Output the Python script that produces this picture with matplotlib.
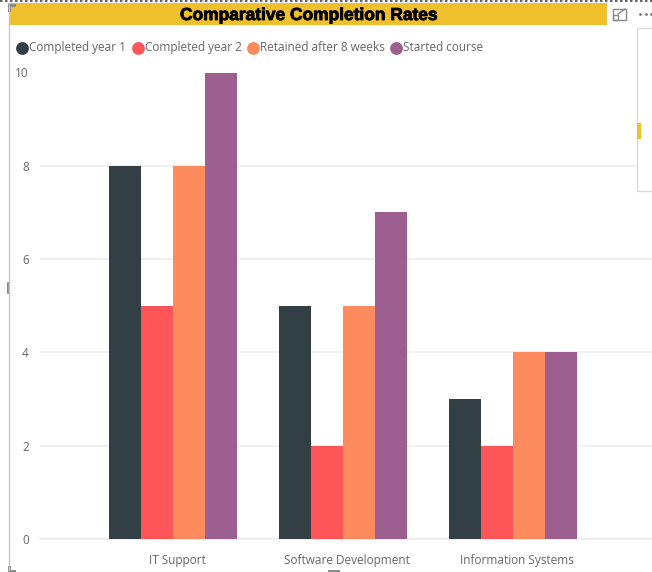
import matplotlib
matplotlib.use('Agg')
import matplotlib.pyplot as plt
from matplotlib.patches import Rectangle
from matplotlib.transforms import ScaledTranslation
import matplotlib.patheffects as pe
import numpy as np

categories = ['IT Support', 'Software Development', 'Information Systems']
completed_year_1 = [8, 5, 3]
completed_year_2 = [5, 2, 2]
retained_8_weeks = [8, 5, 4]
started_course = [10, 7, 4]

series_names = ['Completed year 1', 'Completed year 2', 'Retained after 8 weeks', 'Started course']
series_values = [completed_year_1, completed_year_2, retained_8_weeks, started_course]
colors = ['#323F44', '#FD5558', '#FD8B5E', '#9C5F8F']
y_ticks = [0, 2, 4, 6, 8, 10]

W, H = 652, 572
plt.rcParams['font.family'] = ['Open Sans', 'DejaVu Sans']

fig = plt.figure(figsize=(W / 100, H / 100), dpi=100)
ax = fig.add_axes([40 / W, 1 - 539 / H, (W - 40) / W, (539 - 72.5) / H])

# bars
x = np.arange(len(categories))
bar_w = 0.189
for i, vals in enumerate(series_values):
    ax.bar(x + (i - 1.5) * bar_w, vals, width=bar_w, color=colors[i], zorder=3)

ax.set_xlim(-0.782, 2.818)
ax.set_ylim(0, 10)
ax.set_yticks(y_ticks)
ax.set_xticks(x)
ax.set_xticklabels(categories)
ax.tick_params(axis='both', length=0, labelsize=8.5, labelcolor='#666666')
ax.tick_params(axis='x', pad=10.5)
ax.tick_params(axis='y', pad=8)
ax.grid(axis='y', color='#EDEDED', linewidth=1.2, zorder=0)
ax.set_axisbelow(True)
ax.spines[['top', 'right', 'left']].set_visible(False)
ax.spines['bottom'].set_color('#EDEDED')
ax.spines['bottom'].set_linewidth(1.2)

# category labels sit a little right of the bar group centres
shift = ScaledTranslation(4 / 100, 0, fig.dpi_scale_trans)
for lab in ax.get_xticklabels():
    lab.set_transform(lab.get_transform() + shift)

# overlay in pixel coordinates for title bar, legend and report chrome
ov = fig.add_axes([0, 0, 1, 1], zorder=5)
ov.set_xlim(0, W)
ov.set_ylim(H, 0)
ov.axis('off')
ov.patch.set_alpha(0)

ov.add_patch(Rectangle((9, 3), 598, 22, color='#F0BF2C', lw=0))
title = ov.text(309, 15.5, 'Comparative Completion Rates', ha='center', va='center',
                family='Liberation Sans', fontweight='bold', fontsize=12.5, color='black')
title.set_path_effects([pe.withStroke(linewidth=0.6, foreground='black')])

legend_x = [21.5, 137.5, 253, 395.5]
for name, col, lx in zip(series_names, colors, legend_x):
    ov.scatter([lx], [47.5], s=85, color=col, linewidths=0)
    ov.text(lx + 7.5, 47.5, name, ha='left', va='center', fontsize=8.5, color='#666666')

# left frame and top dashes
ov.plot([9, 9], [5, 570], color='#C8C8C8', lw=1)
ov.plot([0, W], [1, 1], color='#666666', lw=1.5, linestyle=(0, (1.2, 1.2)))
ov.add_patch(Rectangle((8, 4), 8, 3, color='#8A8A8A', lw=0))
ov.add_patch(Rectangle((8, 4), 3, 8, color='#8A8A8A', lw=0))
ov.add_patch(Rectangle((7, 282), 3, 12, color='#8A8A8A', lw=0))
ov.add_patch(Rectangle((8, 566), 3, 6, color='#8A8A8A', lw=0))
ov.add_patch(Rectangle((8, 570), 8, 2, color='#8A8A8A', lw=0))
ov.add_patch(Rectangle((328, 570), 12, 2, color='#8A8A8A', lw=0))

# side panel
ov.add_patch(Rectangle((637, 28), 20, 163, facecolor='white', edgecolor='#DCDCDC', lw=1))
ov.add_patch(Rectangle((637, 123), 4, 16, color='#F0BF2C', lw=0))

# focus icon and dots
ov.add_patch(Rectangle((612.5, 8.5), 13, 11, fill=False, edgecolor='#8A8A8A', lw=1))
ov.add_patch(Rectangle((612.5, 15), 5, 4.5, fill=False, edgecolor='#8A8A8A', lw=1))
ov.plot([618, 625], [14, 9], color='#8A8A8A', lw=1)
ov.scatter([640, 646, 651], [14, 14, 14], s=4, color='#777777', linewidths=0)

fig.savefig('out.png', dpi=100)
